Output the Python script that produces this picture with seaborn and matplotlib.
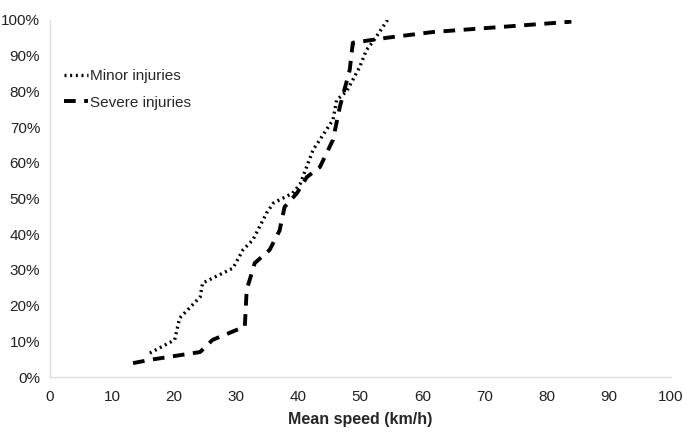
import pandas as pd
import numpy as np
import seaborn as sns
from matplotlib import pyplot as plt
from matplotlib.ticker import PercentFormatter

# cumulative share of crashes by mean speed
minor_speed = [16.1, 17.5, 20.1, 20.9, 24.2, 24.6, 29.5, 31.1, 32.7, 34.9, 36.0, 39.1,
               40.3, 42.4, 45.6, 46.2, 47.8, 49.9, 51.0, 52.0, 54.4]
minor_pct = [6.7, 8.0, 10.4, 16.5, 22.4, 26.3, 30.5, 35.6, 38.4, 45.9, 48.7, 51.5,
             54.0, 63.6, 72.0, 77.6, 80.0, 86.8, 91.6, 93.8, 100.0]

severe_speed = [13.4, 16.1, 24.2, 26.2, 30.1, 31.4, 31.7, 33.0, 35.4, 37.0, 37.8, 39.8,
                41.4, 43.5, 45.6, 46.7, 48.3, 48.8, 54.3, 61.7, 72.5, 84.0]
severe_pct = [3.9, 4.8, 7.0, 10.4, 13.2, 14.0, 24.4, 31.9, 35.6, 41.0, 47.6, 51.5,
              56.0, 58.8, 66.4, 75.6, 86.0, 93.6, 95.0, 96.6, 98.0, 99.5]

df_m = pd.DataFrame({'speed': minor_speed, 'pct': minor_pct})
df_sv = pd.DataFrame({'speed': severe_speed, 'pct': severe_pct})

sns.set_style('white')
plt.rcParams['font.family'] = ['Liberation Sans Narrow', 'Liberation Sans', 'DejaVu Sans']

fig, ax = plt.subplots(figsize=(6.83, 4.42), dpi=100)
fig.subplots_adjust(left=0.073, right=0.982, bottom=0.147, top=0.955)

sns.lineplot(data=df_m, x='speed', y='pct', ax=ax, color='black', lw=2.4,
             linestyle=(0, (0.6, 1.1)), label='Minor injuries', sort=False)
sns.lineplot(data=df_sv, x='speed', y='pct', ax=ax, color='black', lw=2.8,
             linestyle=(0, (3.0, 2.2)), label='Severe injuries', sort=False)

ax.set_xlim(0, 100)
ax.set_ylim(0, 100)
ax.set_xticks(np.arange(0, 101, 10))
ax.set_yticks(np.arange(0, 101, 10))
ax.yaxis.set_major_formatter(PercentFormatter(decimals=0))
ax.tick_params(labelsize=11, length=0, colors='#222222')
ax.tick_params(axis='x', pad=9)
ax.tick_params(axis='y', pad=7)
ax.set_xlabel('Mean speed (km/h)', fontsize=11.5, fontweight='bold', labelpad=6)
ax.set_ylabel('')
sns.despine(ax=ax)
for s in ['left', 'bottom']:
    ax.spines[s].set_color('#dddddd')
    ax.spines[s].set_linewidth(1)

ax.legend(loc='upper left', bbox_to_anchor=(0.0, 0.9), frameon=False,
          handlelength=1.6, handletextpad=0.1, fontsize=11, labelspacing=0.8)

plt.savefig('out.png', dpi=100)
